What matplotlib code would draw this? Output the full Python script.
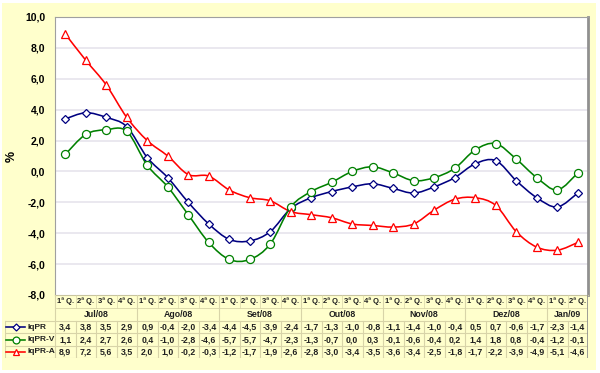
import numpy as np
import matplotlib
matplotlib.use("Agg")
import matplotlib.pyplot as plt
from matplotlib.path import Path
from matplotlib.patches import PathPatch, Rectangle

plt.rcParams['font.family'] = ['Liberation Sans', 'DejaVu Sans']

months = ["Jul/08", "Ago/08", "Set/08", "Out/08", "Nov/08", "Dez/08", "Jan/09"]
weeks_per_month = [4, 4, 4, 4, 4, 4, 2]
week_labels = ["1ª Q.", "2ª Q.", "3ª Q.", "4ª Q."]

iqpr = [3.4, 3.8, 3.5, 2.9, 0.9, -0.4, -2.0, -3.4, -4.4, -4.5, -3.9, -2.4, -1.7, -1.3,
        -1.0, -0.8, -1.1, -1.4, -1.0, -0.4, 0.5, 0.7, -0.6, -1.7, -2.3, -1.4]
iqpr_v = [1.1, 2.4, 2.7, 2.6, 0.4, -1.0, -2.8, -4.6, -5.7, -5.7, -4.7, -2.3, -1.3, -0.7,
          0.0, 0.3, -0.1, -0.6, -0.4, 0.2, 1.4, 1.8, 0.8, -0.4, -1.2, -0.1]
iqpr_a = [8.9, 7.2, 5.6, 3.5, 2.0, 1.0, -0.2, -0.3, -1.2, -1.7, -1.9, -2.6, -2.8, -3.0,
          -3.4, -3.5, -3.6, -3.4, -2.5, -1.8, -1.7, -2.2, -3.9, -4.9, -5.1, -4.6]

series = [
    ("IqPR", iqpr, "#000080", "D", 4.2),
    ("IqPR-V", iqpr_v, "#008000", "o", 5.8),
    ("IqPR-A", iqpr_a, "#FF0000", "^", 5.4),
]

W, H = 600, 373
BG = "#FFFFCC"
GRID_T = "#D8D4A8"

fig = plt.figure(figsize=(6, 3.73), dpi=100, facecolor="white")
fig.patches.append(Rectangle((2 / W, 1 - 370 / H), 594 / W, 367 / H,
                             transform=fig.transFigure, facecolor=BG,
                             edgecolor="none", zorder=-10))

L, R, T, B = 55, 588, 17, 295
ax = fig.add_axes([L / W, 1 - B / H, (R - L) / W, (B - T) / H])
ax.set_facecolor("white")
n = len(iqpr)
ax.set_xlim(-0.5, n - 0.5)
ax.set_ylim(-8, 10)
yt = np.arange(-8, 10.1, 2)
ax.set_yticks(yt)
ax.set_yticklabels([f"{v:.1f}".replace(".", ",") for v in yt],
                   fontsize=7.5, fontweight="bold")
ax.set_xticks([])
ax.tick_params(axis="y", length=0, pad=7)
for y in np.arange(-6, 10.1, 2):
    ax.axhline(y, color="#E6E4EC", lw=1.2, zorder=0)
for s in ["top", "left"]:
    ax.spines[s].set_color("#A0A0A0")
    ax.spines[s].set_linewidth(0.8)
ax.spines["right"].set_color("#909090")
ax.spines["right"].set_linewidth(2)
ax.spines["bottom"].set_color("#C8C4A0")
ax.spines["bottom"].set_linewidth(0.8)
ax.set_ylabel("%", fontsize=9, fontweight="bold")
ax.yaxis.set_label_coords((18 - L) / (R - L), 0.5)


def smooth_path(xs, ys):
    pts = np.column_stack([xs, ys]).astype(float)
    verts = [pts[0]]
    codes = [Path.MOVETO]
    m = len(pts)
    for i in range(m - 1):
        p0 = pts[i - 1] if i > 0 else pts[i]
        p1 = pts[i]
        p2 = pts[i + 1]
        p3 = pts[i + 2] if i + 2 < m else pts[i + 1]
        c1 = p1 + (p2 - p0) / 6.0
        c2 = p2 - (p3 - p1) / 6.0
        verts += [c1, c2, p2]
        codes += [Path.CURVE4] * 3
    return Path(verts, codes)


x = np.arange(n)
for name, vals, col, mk, ms in series:
    ax.add_patch(PathPatch(smooth_path(x, vals), fill=False, edgecolor=col, lw=1.15, zorder=3))
    ax.plot(x, vals, ls="none", marker=mk, ms=ms, mfc="white", mec=col, mew=0.9, zorder=4)

# ---- table ----
TL, TB = 5, 358
col_w = (R - L) / n
left_units = (L - TL) / col_w
tax = fig.add_axes([TL / W, 1 - TB / H, (R - TL) / W, (TB - B) / H])
tax.set_xlim(-0.5 - left_units, n - 0.5)
row_h = [13, 13, 12.3, 12.3, 12.3]
edges = np.concatenate([[0], np.cumsum(row_h)])
tax.set_ylim(edges[-1], 0)
tax.axis("off")

x0 = -0.5 - left_units
tax.plot([-0.5, n - 0.5], [edges[1], edges[1]], color=GRID_T, lw=0.6)
for e in edges[2:]:
    tax.plot([x0, n - 0.5], [e, e], color=GRID_T, lw=0.8)
tax.plot([x0, x0], [edges[2], edges[-1]], color=GRID_T, lw=0.8)
tax.plot([n - 0.5, n - 0.5], [0, edges[-1]], color="#909090", lw=2)
bounds = np.cumsum([0] + weeks_per_month)
for i in range(n + 1):
    xi = i - 0.5
    if i in bounds:
        tax.plot([xi, xi], [0, edges[-1]], color=GRID_T, lw=0.8)
    else:
        tax.plot([xi, xi], [0, edges[1]], color=GRID_T, lw=0.5)
        tax.plot([xi, xi], [edges[2], edges[-1]], color=GRID_T, lw=0.8)

k = 0
for wpm in weeks_per_month:
    for j in range(wpm):
        tax.text(k, (edges[0] + edges[1]) / 2, week_labels[j], ha="center", va="center",
                 fontsize=5.5, fontweight="bold", color="#202020")
        k += 1
for mi, m in enumerate(months):
    cx = (bounds[mi] + bounds[mi + 1] - 1) / 2
    tax.text(cx, (edges[1] + edges[2]) / 2, m, ha="center", va="center",
             fontsize=6.3, fontweight="bold", color="#202020")

px = 1.0 / col_w
for r, (name, vals, col, mk, ms) in enumerate(series):
    yc = (edges[r + 2] + edges[r + 3]) / 2
    for i, v in enumerate(vals):
        tax.text(i, yc, f"{v:.1f}".replace(".", ","), ha="center", va="center",
                 fontsize=6.3, fontweight="bold", color="#202020")
    lx0 = x0 + 1 * px
    lx1 = x0 + 20 * px
    tax.plot([lx0, lx1], [yc, yc], color=col, lw=1.15)
    tax.plot([(lx0 + lx1) / 2], [yc], marker=mk, ms=ms * 0.85, mfc="white", mec=col, mew=0.9)
    tax.text(x0 + 22 * px, yc, name, ha="left", va="center", fontsize=6.0,
             fontweight="bold", color="#202020")

fig.savefig("out.png", dpi=100, facecolor="white")
